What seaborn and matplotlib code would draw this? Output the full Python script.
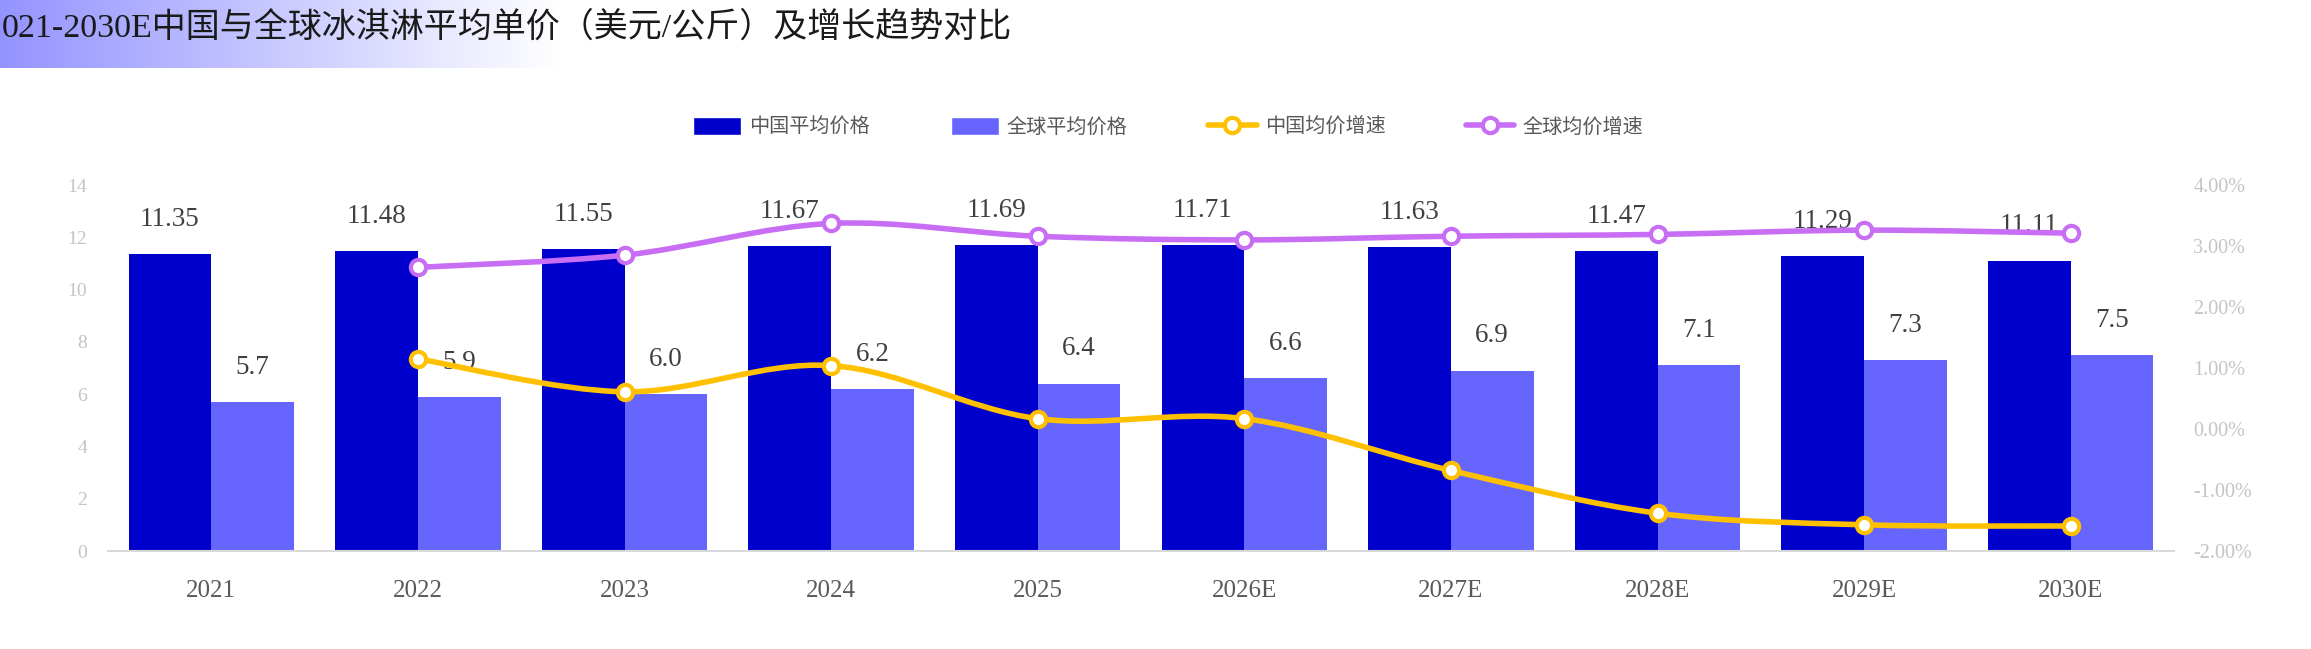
import numpy as np
import pandas as pd
import matplotlib
matplotlib.use("Agg")
import matplotlib.pyplot as plt
import seaborn as sns
from matplotlib.path import Path
from matplotlib.patches import PathPatch, Patch
from matplotlib.lines import Line2D

# Data
years = ['2021', '2022', '2023', '2024', '2025', '2026E', '2027E', '2028E', '2029E', '2030E']
china_price = [11.35, 11.48, 11.55, 11.67, 11.69, 11.71, 11.63, 11.47, 11.29, 11.11]
global_price = [5.7, 5.9, 6.0, 6.2, 6.4, 6.6, 6.9, 7.1, 7.3, 7.5]
growth_years = years[1:]
china_growth = [1.15, 0.61, 1.04, 0.17, 0.17, -0.68, -1.38, -1.57, -1.59]    # %
global_growth = [2.65, 2.85, 3.37, 3.16, 3.10, 3.16, 3.19, 3.26, 3.21]       # %

series_names = ['中国平均价格', '全球平均价格', '中国均价增速', '全球均价增速']
bar_colors = ['#0000CC', '#6666FF']
line_colors = ['#FFC000', '#C86EF5']

sns.set_theme(style="white")
plt.rcParams['font.family'] = ['Liberation Serif', 'Noto Sans CJK SC']

W, H = 2311, 649
fig = plt.figure(figsize=(W / 100, H / 100), dpi=100)

# title band with gradient
gax = fig.add_axes([0, 1 - 68 / H, 560 / W, 68 / H])
t = np.linspace(0, 1, 300)
start = np.array([0.58, 0.58, 1.0])
img = start[None, :] * (1 - t[:, None]) + np.ones(3)[None, :] * t[:, None]
gax.imshow(img[None, :, :], aspect='auto', extent=[0, 1, 0, 1])
gax.axis('off')
fig.text(2 / W, 1 - 27 / H, '021-2030E中国与全球冰淇淋平均单价（美元/公斤）及增长趋势对比',
         fontsize=24.5, color='#1a1a1a', va='center', ha='left',
         family=['Liberation Serif', 'Noto Sans CJK SC'])

ax = fig.add_axes([108 / W, 98 / H, (2174 - 108) / W, 366 / H])

df = pd.DataFrame({
    'year': years * 2,
    'price': china_price + global_price,
    'series': [series_names[0]] * len(years) + [series_names[1]] * len(years),
})
sns.barplot(data=df, x='year', y='price', hue='series', order=years,
            hue_order=series_names[:2], palette=bar_colors, saturation=1,
            width=0.8, linewidth=0, legend=False, ax=ax)

ax.set_xlim(-0.5, len(years) - 0.5)
ax.set_ylim(0, 14)
ax.set_yticks(range(0, 15, 2))
ax.set_xlabel('')
ax.set_ylabel('')
for s in ['top', 'right', 'left']:
    ax.spines[s].set_visible(False)
ax.spines['bottom'].set_color('#d9d9d9')
ax.spines['bottom'].set_linewidth(1.5)
ax.tick_params(axis='y', length=0, pad=15, labelsize=14, labelcolor='#c4c4c4')
ax.tick_params(axis='x', length=0, pad=21, labelsize=18, labelcolor='#595959')

# value labels
fmts = ['{:.2f}', '{:.1f}']
for cont, fmt in zip(ax.containers, fmts):
    for bar in cont:
        h = bar.get_height()
        ax.annotate(fmt.format(h), (bar.get_x() + bar.get_width() / 2, h),
                    xytext=(0, 25), textcoords='offset points',
                    ha='center', va='center', fontsize=19.5, color='#404040')

# growth lines on right axis
ax2 = ax.twinx()
ax2.set_ylim(-2, 4)
ax2.set_yticks(range(-2, 5))
ax2.set_yticklabels([f'{v:.2f}%' for v in range(-2, 5)])
for s in ax2.spines.values():
    s.set_visible(False)
ax2.tick_params(axis='y', length=0, pad=14, labelsize=14.5, labelcolor='#c4c4c4')
ax2.grid(False)
ax.grid(False)


def smooth_path(xs, ys):
    pts = np.column_stack([xs, ys]).astype(float)
    verts = [pts[0]]
    codes = [Path.MOVETO]
    n = len(pts)
    for i in range(n - 1):
        p0 = pts[i - 1] if i > 0 else pts[i]
        p1, p2 = pts[i], pts[i + 1]
        p3 = pts[i + 2] if i + 2 < n else pts[i + 1]
        c1 = p1 + (p2 - p0) / 6
        c2 = p2 - (p3 - p1) / 6
        verts += [c1, c2, p2]
        codes += [Path.CURVE4] * 3
    return Path(verts, codes)


gx = [years.index(y) for y in growth_years]
for vals, col in zip([china_growth, global_growth], line_colors):
    ax2.add_patch(PathPatch(smooth_path(gx, vals), fill=False, edgecolor=col,
                            lw=4, capstyle='round', zorder=3))
    ax2.plot(gx, vals, linestyle='none', marker='o', ms=11, mfc='white',
             mec=col, mew=3, zorder=4)

handles = [
    Patch(facecolor=bar_colors[0], label=series_names[0]),
    Patch(facecolor=bar_colors[1], label=series_names[1]),
    Line2D([], [], color=line_colors[0], lw=4, marker='o', ms=11, mfc='white',
           mec=line_colors[0], mew=3, label=series_names[2]),
    Line2D([], [], color=line_colors[1], lw=4, marker='o', ms=11, mfc='white',
           mec=line_colors[1], mew=3, label=series_names[3]),
]
leg = fig.legend(handles=handles, loc='center', bbox_to_anchor=(1168 / W, 1 - 127 / H),
                 ncol=4, frameon=False, handlelength=2.4, handleheight=1.0,
                 handletextpad=0.4, columnspacing=4.0,
                 prop={'family': ['Noto Sans CJK SC'], 'size': 14.5})
for txt in leg.get_texts():
    txt.set_color('#595959')

fig.savefig('out.png', dpi=100)
